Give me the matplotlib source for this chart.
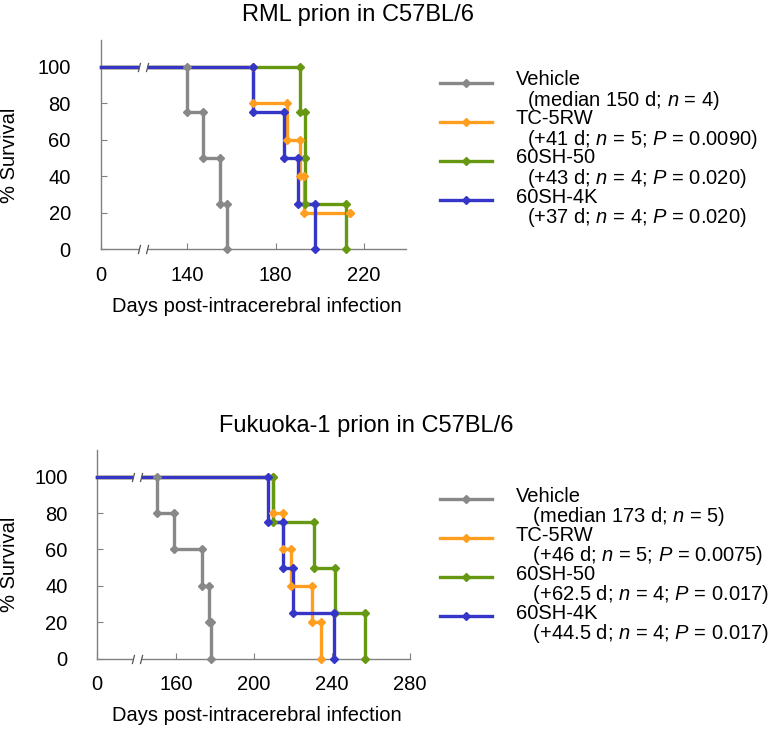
import numpy as np
import matplotlib
matplotlib.use("Agg")
import matplotlib.pyplot as plt
from matplotlib.lines import Line2D
from matplotlib.path import Path

plt.rcParams['font.family'] = ['Liberation Sans', 'DejaVu Sans']
plt.rcParams['mathtext.fontset'] = 'custom'
plt.rcParams['mathtext.rm'] = 'Liberation Sans'
plt.rcParams['mathtext.it'] = 'Liberation Sans:italic'

# ---------------- data ----------------
series_names = ["Vehicle", "TC-5RW", "60SH-50", "60SH-4K"]
series_colors = ["#888888", "#FF9E1F", "#669911", "#3535C8"]

# RML prion (top)
rml_vehicle_days = [0, 140, 147, 155, 158]
rml_vehicle_surv = [100, 75, 50, 25, 0]
rml_tc5rw_days = [0, 170, 185, 191, 193, 214]
rml_tc5rw_surv = [100, 80, 60, 40, 20, 20]
rml_60sh50_days = [0, 191, 193.5, 193.5, 212]
rml_60sh50_surv = [100, 75, 50, 25, 0]
rml_60sh4k_days = [0, 170, 184, 190, 198]
rml_60sh4k_surv = [100, 75, 50, 25, 0]
rml_notes = ["(median 150 d; $n$ = 4)",
             "(+41 d; $n$ = 5; $P$ = 0.0090)",
             "(+43 d; $n$ = 4; $P$ = 0.020)",
             "(+37 d; $n$ = 4; $P$ = 0.020)"]
rml_xticks = [0, 140, 180, 220]

# Fukuoka-1 prion (bottom)
fk_vehicle_days = [0, 150, 159, 173, 177, 178]
fk_vehicle_surv = [100, 80, 60, 40, 20, 0]
fk_tc5rw_days = [0, 209.5, 215, 219, 229.5, 234.5]
fk_tc5rw_surv = [100, 80, 60, 40, 20, 0]
fk_60sh50_days = [0, 209.5, 230.5, 241.5, 257]
fk_60sh50_surv = [100, 75, 50, 25, 0]
fk_60sh4k_days = [0, 207, 215, 220, 241]
fk_60sh4k_surv = [100, 75, 50, 25, 0]
fk_notes = ["(median 173 d; $n$ = 5)",
            "(+46 d; $n$ = 5; $P$ = 0.0075)",
            "(+62.5 d; $n$ = 4; $P$ = 0.017)",
            "(+44.5 d; $n$ = 4; $P$ = 0.017)"]
fk_xticks = [0, 160, 200, 240, 280]

yticks = [0, 20, 40, 60, 80, 100]

# ---------------- figure ----------------
W, H = 778, 732
fig = plt.figure(figsize=(W / 100, H / 100), dpi=100)

def px_rect(l, t, r, b):
    return [l / W, 1 - b / H, (r - l) / W, (b - t) / H]

AX_COLOR = "#808080"
LW = 2.4
MS = 4.4
FS = 14.5

slash_path = Path([(-4.5, -4), (-2.5, 4), (2.5, -4), (4.5, 4)],
                  [Path.MOVETO, Path.LINETO, Path.MOVETO, Path.LINETO])


def make_scale(brk, zero_u):
    k = (brk - zero_u) / brk
    fwd = lambda x: np.where(np.asarray(x) < brk, zero_u + np.asarray(x) * k, x)
    inv = lambda u: np.where(np.asarray(u) < brk, (np.asarray(u) - zero_u) / k, u)
    return fwd, inv


def draw_panel(rect, brk, zero_u, xmax, xticks, curves, title, title_xy,
               notes, leg_y0, leg_dy, indent, ylab_x):
    ax = fig.add_axes(rect)
    fwd, inv = make_scale(brk, zero_u)
    ax.set_xscale('function', functions=(fwd, inv))
    ax.set_xlim(0, xmax)
    ax.set_ylim(0, 114.6)
    for (days, surv), c in zip(curves, series_colors):
        days = np.asarray(days, float)
        surv = np.asarray(surv, float)
        ax.plot(days, surv, drawstyle='steps-post', color=c, lw=LW,
                solid_joinstyle='miter', clip_on=False, zorder=3)
        cx = np.repeat(days[1:], 2)
        cy = np.column_stack([surv[:-1], surv[1:]]).ravel()
        ax.plot(cx, cy, ls='none', marker='D', ms=MS, color=c,
                clip_on=False, zorder=4)
    # axis break marks (on 100 % line and on x axis)
    for yv, tr in [(100, ax.transData), (0, ax.get_xaxis_transform())]:
        ax.plot([brk], [yv], transform=tr, marker='s', ms=5.2, color='white',
                mec='none', ls='none', clip_on=False, zorder=6)
        ax.plot([brk], [yv], transform=tr, marker=slash_path, ms=7.5,
                mfc='none', mec='#555555', mew=0.9, ls='none',
                clip_on=False, zorder=7)
    for s in ['top', 'right']:
        ax.spines[s].set_visible(False)
    for s in ['left', 'bottom']:
        ax.spines[s].set_color(AX_COLOR)
        ax.spines[s].set_linewidth(1.0)
    ax.set_xticks(xticks)
    ax.set_xticklabels([str(v) for v in xticks])
    ax.set_yticks(yticks)
    ax.set_yticklabels([str(v) for v in yticks])
    ax.minorticks_off()
    ax.tick_params(axis='both', direction='in', length=4, width=0.8,
                   color=AX_COLOR, labelsize=FS, labelcolor='black')
    ax.tick_params(axis='x', pad=12)
    ax.tick_params(axis='y', pad=21.5)
    ax.set_ylabel("% Survival", fontsize=FS)
    ax.yaxis.set_label_coords(ylab_x, 0.45)
    ax.set_xlabel("Days post-intracerebral infection", fontsize=FS)
    ax.xaxis.set_label_coords(0.51, -0.228)
    fig.text(title_xy[0] / W, 1 - title_xy[1] / H, title, fontsize=17,
             ha='left', va='baseline')
    # legend
    for i, (name, c, note) in enumerate(zip(series_names, series_colors, notes)):
        y = leg_y0 + i * leg_dy
        fy = 1 - y / H
        fig.add_artist(Line2D([440 / W, 491.7 / W], [fy, fy], color=c, lw=LW,
                              transform=fig.transFigure))
        fig.add_artist(Line2D([465.8 / W], [fy], color=c, marker='D', ms=3.8,
                              ls='none', transform=fig.transFigure))
        fig.text(516 / W, 1 - (y + 23) / H, name + "\n" + indent + note,
                 fontsize=FS, ha='left', va='baseline', linespacing=0.97)
    return ax


draw_panel(px_rect(100.7, 40, 406, 249.3), 120, 100.7, 239.2, rml_xticks,
           [(rml_vehicle_days, rml_vehicle_surv), (rml_tc5rw_days, rml_tc5rw_surv),
            (rml_60sh50_days, rml_60sh50_surv), (rml_60sh4k_days, rml_60sh4k_surv)],
           "RML prion in C57BL/6", (241.7, 20.7), rml_notes, 82.7, 39.1, "  ",
           -0.268)

draw_panel(px_rect(97.3, 450, 410, 658.7), 140, 119.5, 280, fk_xticks,
           [(fk_vehicle_days, fk_vehicle_surv), (fk_tc5rw_days, fk_tc5rw_surv),
            (fk_60sh50_days, fk_60sh50_surv), (fk_60sh4k_days, fk_60sh4k_surv)],
           "Fukuoka-1 prion in C57BL/6", (219.3, 431.7), fk_notes, 499.3, 39.0, "   ",
           -0.251)

fig.savefig("out.png", dpi=100)
